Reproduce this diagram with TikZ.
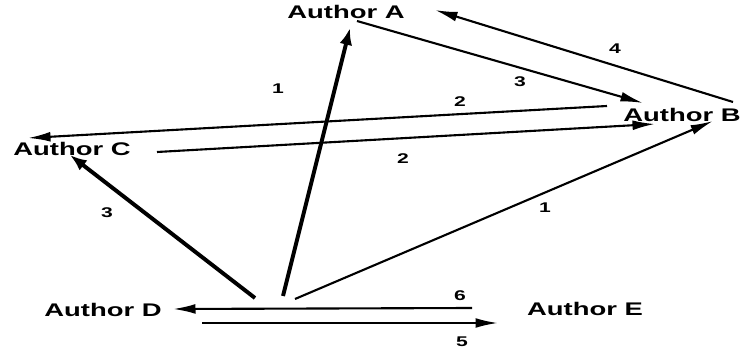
\documentclass[tikz,border=0pt]{standalone}
\usepackage{fontspec}
\newfontfamily\authorfont[FakeStretch=1.5]{Liberation Sans}
\usetikzlibrary{arrows.meta}

\tikzset{
  author/.style={font=\authorfont\bfseries\fontsize{13}{15}\selectfont, inner sep=0pt},
  cite/.style={font=\authorfont\bfseries\fontsize{10}{12}\selectfont, inner sep=0pt},
  link/.style={line width=1.5pt, -{Latex[length=16pt,width=7pt]}},
  strong/.style={line width=2.8pt, -{Latex[length=12pt,width=9pt]}},
}

\begin{document}
\begin{tikzpicture}[x=0.025cm, y=-0.025cm]
    \useasboundingbox (0,0) rectangle (742,353);

    % authors
    \node[author] (A) at (346,12) {Author A};
    \node[author] (B) at (682,115) {Author B};
    \node[author] (C) at (72,149) {Author C};
    \node[author] (D) at (103,310) {Author D};
    \node[author] (E) at (585,309) {Author E};

    % connector ends
    \coordinate (A-out) at (357,21);
    \coordinate (A-in1) at (350,28);
    \coordinate (A-in4) at (435,10);
    \coordinate (B-out4) at (733,102);
    \coordinate (B-out2) at (607,106);
    \coordinate (B-in3) at (643,103);
    \coordinate (B-in2) at (655,124);
    \coordinate (B-in1) at (713,121);
    \coordinate (C-out) at (157,152);
    \coordinate (C-in2) at (28,138);
    \coordinate (C-in3) at (70,155);
    \coordinate (D-outA) at (283,296);
    \coordinate (D-outC) at (255,298);
    \coordinate (D-outB) at (295,299);
    \coordinate (D-outE) at (202,323);
    \coordinate (D-in) at (173,309);
    \coordinate (E-out) at (472,308);
    \coordinate (E-in) at (498,323);

    % citations
    \draw[strong] (D-outA) -- (A-in1);
    \draw[strong] (D-outC) -- (C-in3);
    \draw[link] (D-outB) -- (B-in1);
    \draw[link] (A-out) -- (B-in3);
    \draw[link] (B-out4) -- (A-in4);
    \draw[link] (B-out2) -- (C-in2);
    \draw[link] (C-out) -- (B-in2);
    \draw[link] (E-out) -- (D-in);
    \draw[link] (D-outE) -- (E-in);

    % counts
    \node[cite] (nDA) at (278,89) {1};
    \node[cite] (nBC) at (460,102) {2};
    \node[cite] (nAB) at (520,82) {3};
    \node[cite] (nBA) at (615,49) {4};
    \node[cite] (nDC) at (107,213) {3};
    \node[cite] (nCB) at (403,159) {2};
    \node[cite] (nDB) at (545,208) {1};
    \node[cite] (nED) at (460,296) {6};
    \node[cite] (nDE) at (462,342) {5};
\end{tikzpicture}
\end{document}
